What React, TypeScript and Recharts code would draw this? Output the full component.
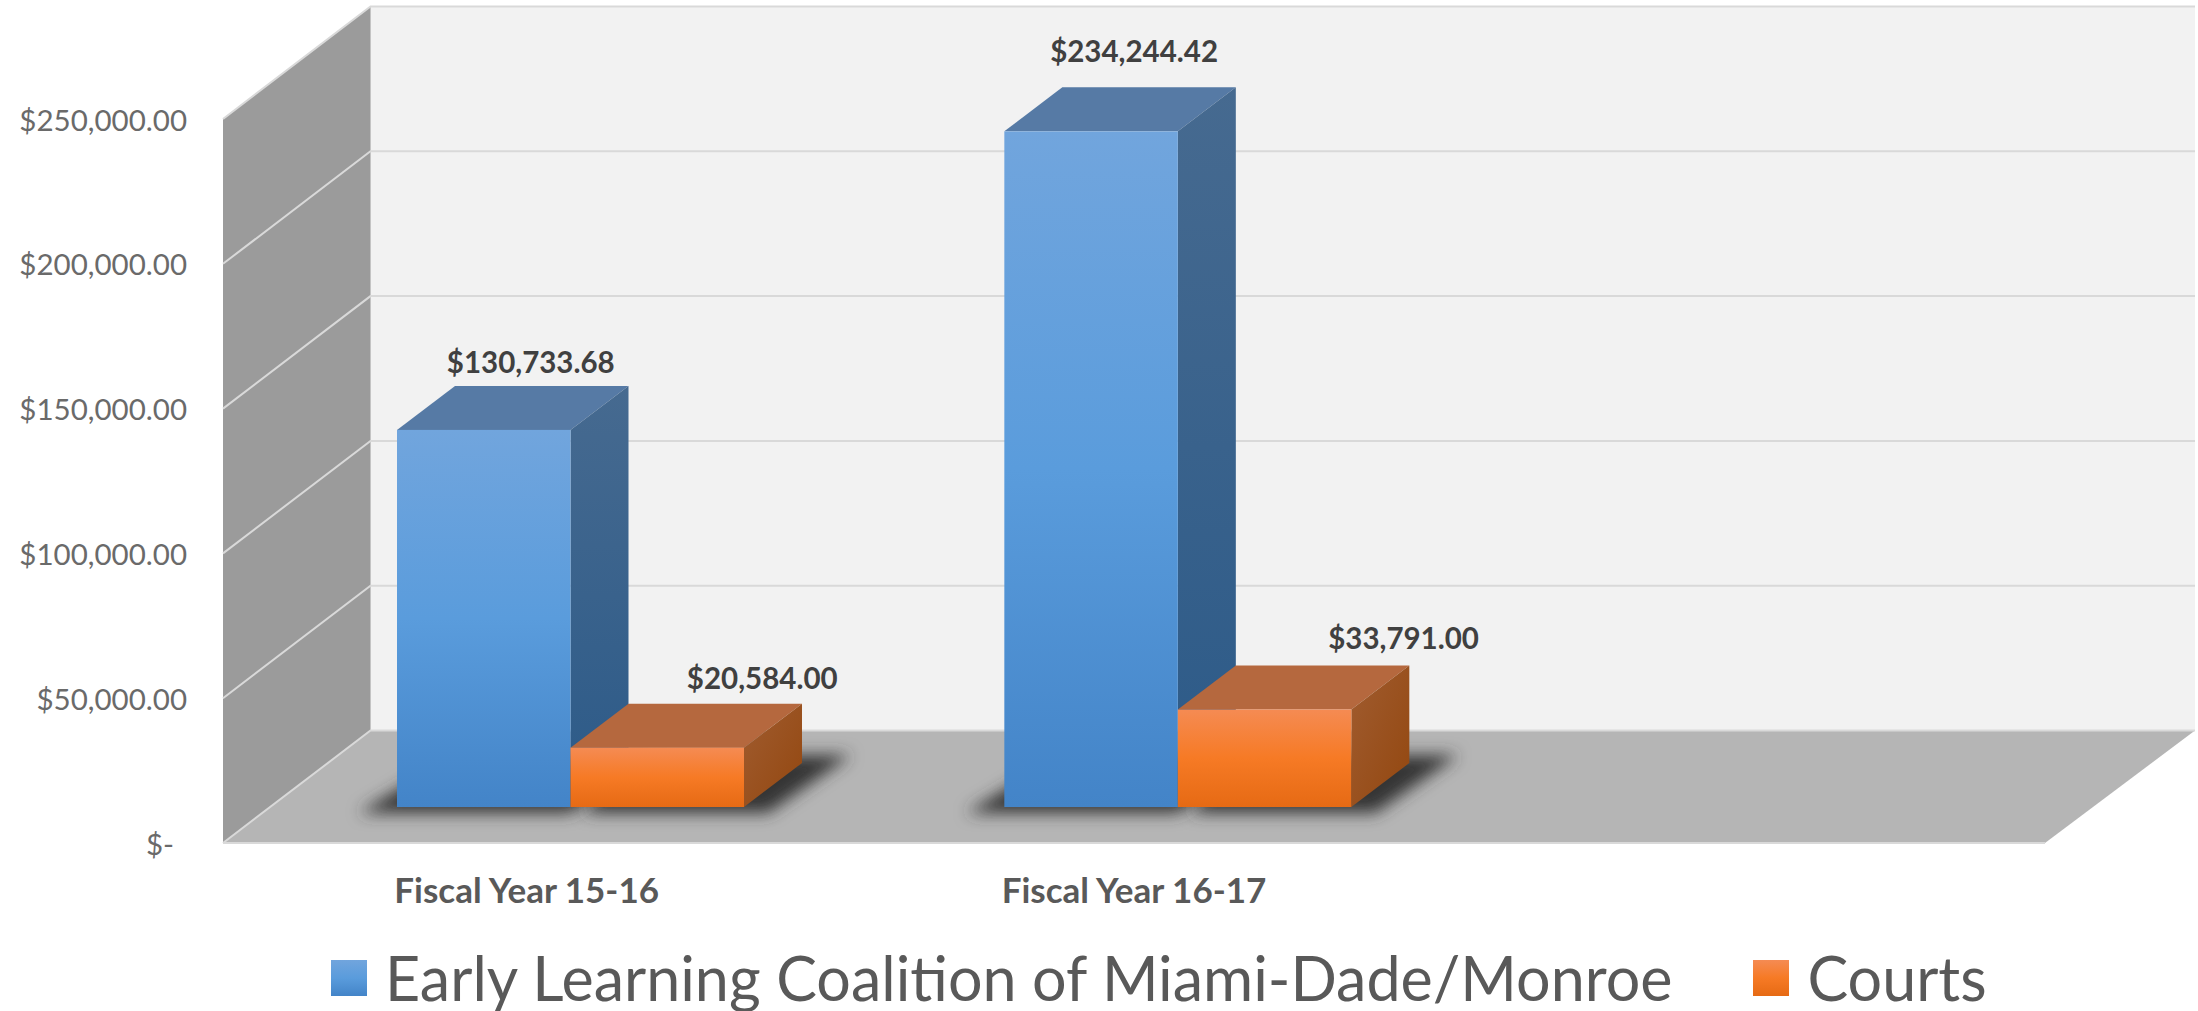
import { BarChart, Bar, XAxis, YAxis, CartesianGrid, Legend, LabelList, Customized, usePlotArea } from 'recharts';

const CATEGORIES = ['Fiscal Year 15-16', 'Fiscal Year 16-17', ''];
const EARLY_LEARNING = [130733.68, 234244.42, null];
const COURTS = [20584.0, 33791.0, null];
const Y_TICKS = [0, 50000, 100000, 150000, 200000, 250000];

const SERIES_EARLY = 'Early Learning Coalition of Miami-Dade/Monroe';
const SERIES_COURTS = 'Courts';

const chartData = CATEGORIES.map((name, i) => ({ name, early: EARLY_LEARNING[i], courts: COURTS[i] }));

// the labels were hand placed in the original, so each has its own nudge off the bar
const EARLY_NUDGE = [[47, -23], [43, -34]];
const COURTS_NUDGE = [[105, -26], [139, -28]];

const FONT = 'Lato, sans-serif';
const WALL_DX = 147.5;
const WALL_DY = 112.5;
const BAR_DX = 58;
const BAR_DY = 44;
const BAR_SHIFT_X = 44;
const BAR_SHIFT_Y = -36;
// bars stand a little behind the front of the box, so they read slightly shorter
const BAR_PERSPECTIVE = 0.996;

const money = (v: number) =>
  '$' + v.toLocaleString('en-US', { minimumFractionDigits: 2, maximumFractionDigits: 2 });

const Walls = () => {
  const plot = usePlotArea();
  if (!plot) return null;
  const { x, y, width, height } = plot;
  const bottom = y + height;
  const backX = x + WALL_DX;
  const backRight = x + width + 150;
  const backTop = y - WALL_DY;
  const backBottom = bottom - WALL_DY;
  return (
    <g>
      <rect x={backX} y={backTop} width={backRight - backX} height={height} fill="#f2f2f2" />
      <polygon points={`${x},${y} ${backX},${backTop} ${backX},${backBottom} ${x},${bottom}`} fill="#9b9b9b" />
      <polygon points={`${x},${bottom} ${backX},${backBottom} ${backRight},${backBottom} ${x + width},${bottom}`} fill="#b5b5b5" />
      <line x1={x} y1={bottom} x2={x + width} y2={bottom} stroke="#d9d9d9" strokeWidth={2} />
      <line x1={backX} y1={backTop} x2={backX} y2={backBottom} stroke="#c4c4c4" strokeWidth={1} />
    </g>
  );
};

const GridLine = (props: any) => {
  const { x1, x2, y1 } = props;
  return (
    <polyline
      points={`${x1},${y1} ${x1 + WALL_DX},${y1 - WALL_DY} ${x2 + 150},${y1 - WALL_DY}`}
      fill="none"
      stroke="#d9d9d9"
      strokeWidth={2}
    />
  );
};

const Block = (props: any, colors: any, shadowLeft: number, shadowRight: number) => {
  const { x, y, width, height } = props;
  if (!height || height <= 0) return <g />;
  const h = height * BAR_PERSPECTIVE;
  const l = x + BAR_SHIFT_X;
  const b = y + height + BAR_SHIFT_Y;
  const t = b - h;
  const r = l + width;
  return (
    <g>
      <polygon
        points={`${l - shadowLeft},${b + 6} ${r + shadowRight},${b + 6} ${r + BAR_DX + 25 + shadowRight},${b - BAR_DY - 8} ${l + BAR_DX},${b - BAR_DY - 8}`}
        fill="#363636"
        filter="url(#floorShadow)"
      />
      <polygon points={`${l},${t} ${l + BAR_DX},${t - BAR_DY} ${r + BAR_DX},${t - BAR_DY} ${r},${t}`} fill={colors.top} />
      <polygon points={`${r},${t} ${r + BAR_DX},${t - BAR_DY} ${r + BAR_DX},${b - BAR_DY} ${r},${b}`} fill={colors.side} />
      <rect x={l} y={t} width={width} height={h} fill={colors.front} />
    </g>
  );
};

const BLUE_FACES = { top: '#567aa5', side: 'url(#blueSide)', front: 'url(#blueFront)' };
const ORANGE_FACES = { top: '#b5683e', side: 'url(#orangeSide)', front: 'url(#orangeFront)' };

const ValueLabel = (nudges: number[][]) => (props: any) => {
  const { x, y, width, value, index } = props;
  if (value == null || !nudges[index]) return null;
  const [dx, dy] = nudges[index];
  return (
    <text
      x={x + BAR_SHIFT_X + width / 2 + dx}
      y={y + BAR_SHIFT_Y - BAR_DY + dy}
      textAnchor="middle"
      dominantBaseline="central"
      fontFamily={FONT}
      fontSize={29.5}
      fontWeight={700}
      fill="#404040"
    >
      {money(value)}
    </text>
  );
};

const YTick = (props: any) => {
  const { x, y, payload } = props;
  const zero = payload.value === 0;
  return (
    <text
      x={zero ? x - 13 : x}
      y={y}
      textAnchor="end"
      dominantBaseline="central"
      fontFamily={FONT}
      fontSize={29.5}
      fill="#6a6a6a"
    >
      {zero ? '$-' : money(payload.value)}
    </text>
  );
};

const renderLegend = (props: any) => (
  <div style={{ display: 'flex', alignItems: 'center', fontFamily: FONT, fontSize: 61, color: '#595959' }}>
    {props.payload.map((p: any, i: number) => (
      <div key={p.value} style={{ display: 'flex', alignItems: 'center', marginRight: i === 0 ? 81 : 0 }}>
        <svg width={36} height={36} style={{ marginRight: 18 }}>
          <rect width={36} height={36} fill={p.color} />
        </svg>
        <span>{p.value}</span>
      </div>
    ))}
  </div>
);

export default function App() {
  return (
    <div style={{ position: 'absolute', left: 0, top: 0, width: 2198, height: 1011, background: '#fff' }}>
      <BarChart
        width={2198}
        height={1011}
        data={chartData}
        margin={{ top: 119, right: 153, bottom: 0, left: 0 }}
        barSize={173.5}
        barGap={0}
      >
        <defs>
          <linearGradient id="blueFront" x1="0" y1="0" x2="0" y2="1">
            <stop offset="0%" stopColor="#71a5dd" />
            <stop offset="50%" stopColor="#5a9cdc" />
            <stop offset="100%" stopColor="#4384c8" />
          </linearGradient>
          <linearGradient id="blueSide" x1="0" y1="0" x2="0" y2="1">
            <stop offset="0%" stopColor="#466a90" />
            <stop offset="100%" stopColor="#2c5a88" />
          </linearGradient>
          <linearGradient id="orangeFront" x1="0" y1="0" x2="0" y2="1">
            <stop offset="0%" stopColor="#f58b53" />
            <stop offset="50%" stopColor="#f67a25" />
            <stop offset="100%" stopColor="#e66a14" />
          </linearGradient>
          <linearGradient id="orangeSide" x1="0" y1="0" x2="1" y2="1">
            <stop offset="0%" stopColor="#a05c30" />
            <stop offset="100%" stopColor="#93470f" />
          </linearGradient>
          <filter id="floorShadow" x="-20%" y="-40%" width="140%" height="180%">
            <feGaussianBlur stdDeviation="8" />
          </filter>
        </defs>
        <Customized component={<Walls />} />
        <CartesianGrid vertical={false} horizontal={<GridLine />} zIndex={1} />
        <XAxis
          dataKey="name"
          height={168}
          axisLine={false}
          tickLine={false}
          tickMargin={29}
          interval={0}
          tick={{ fontFamily: FONT, fontSize: 35, fontWeight: 700, fill: '#595959' }}
        />
        <YAxis
          width={223}
          domain={[0, 250000]}
          ticks={Y_TICKS}
          axisLine={false}
          tickLine={false}
          tickMargin={30}
          tick={<YTick />}
        />
        <Legend
          content={renderLegend}
          layout="horizontal"
          verticalAlign="middle"
          itemSorter={null as any}
          wrapperStyle={{ left: 331, top: 941, width: 1800, bottom: 'auto' }}
        />
        <Bar
          dataKey="early"
          name={SERIES_EARLY}
          fill="url(#blueFront)"
          isAnimationActive={false}
          shape={(p: any) => Block(p, BLUE_FACES, 38, 0)}
        >
          <LabelList dataKey="early" content={ValueLabel(EARLY_NUDGE)} />
        </Bar>
        <Bar
          dataKey="courts"
          name={SERIES_COURTS}
          fill="url(#orangeFront)"
          isAnimationActive={false}
          shape={(p: any) => Block(p, ORANGE_FACES, -14, 24)}
        >
          <LabelList dataKey="courts" content={ValueLabel(COURTS_NUDGE)} />
        </Bar>
      </BarChart>
    </div>
  );
}
